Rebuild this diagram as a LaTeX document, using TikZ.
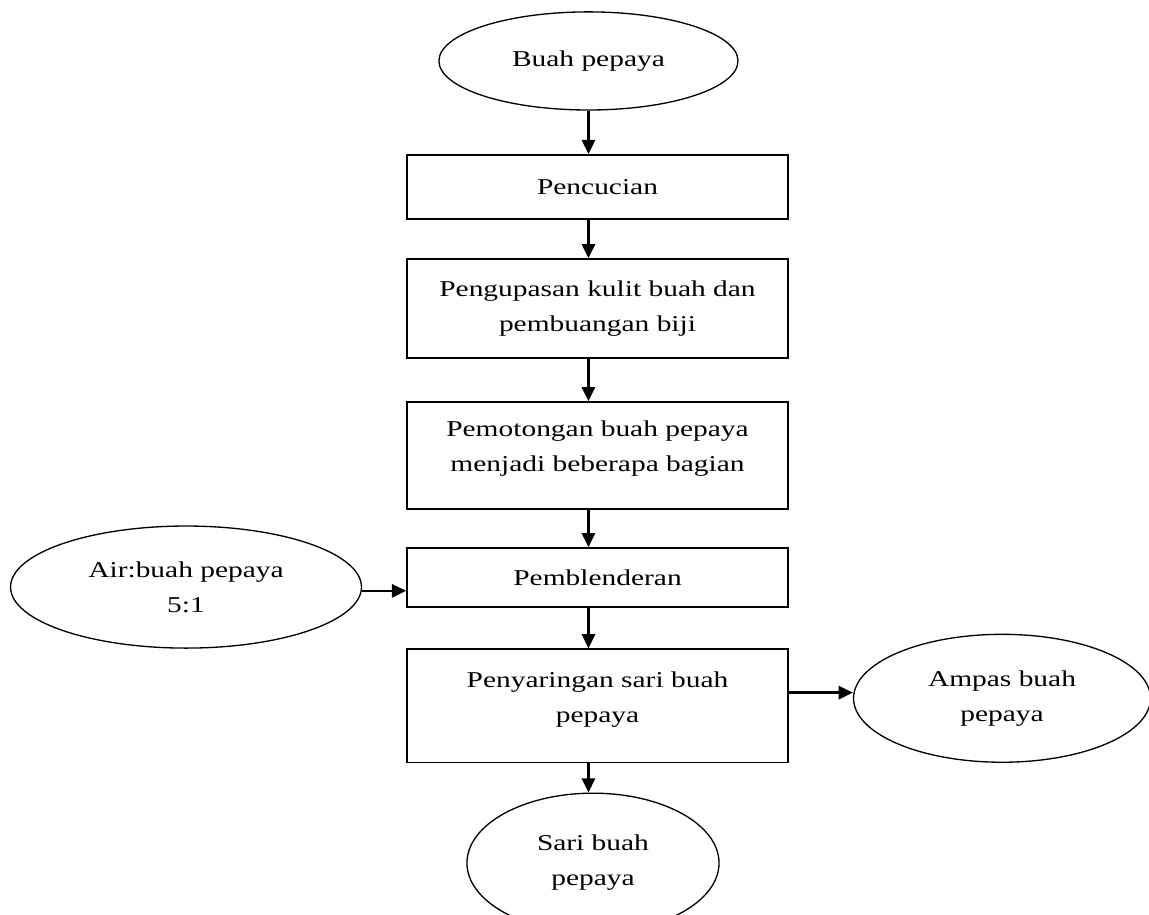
\documentclass[tikz,border=0pt]{standalone}
\usepackage{fontspec}
\setmainfont{Liberation Serif}[FakeStretch=1.3]
\usepackage{tikz}
\usetikzlibrary{shapes.geometric, arrows.meta, positioning, calc}

\begin{document}
\begin{tikzpicture}[
    every node/.style={font=\fontsize{12}{18.5}\selectfont, align=center},
    proses/.style={rectangle, draw=black, line width=0.9pt, minimum width=202pt, inner sep=2pt},
    bahan/.style={ellipse, draw=black, line width=0.7pt, inner sep=0pt},
    arrow/.style={-{Triangle[length=7.5pt, width=7pt]}, line width=1.2pt, draw=black}
]

\useasboundingbox (-311.9pt,32.3pt) rectangle (297.1pt,-452.6pt);

% Main Flow
\node (buah) [bahan, minimum width=158.5pt, minimum height=52pt] at (0,0) {Buah pepaya};
\node (cuci) [proses, minimum height=34pt, below=23pt of buah, xshift=4.8pt] {Pencucian};
\node (kupas) [proses, minimum height=52.5pt, below=20.3pt of cuci] {Pengupasan kulit buah dan\\ pembuangan biji};
\node (potong) [proses, minimum height=56.7pt, below=22.4pt of kupas] {Pemotongan buah pepaya\\ menjadi beberapa bagian\\[-9pt]\mbox{}};
\node (blender) [proses, minimum height=31.3pt, below=19.8pt of potong] {Pemblenderan};
\node (saring) [proses, minimum height=60pt, below=21.4pt of blender] {Penyaringan sari buah\\ pepaya\\[-9pt]\mbox{}};
\node (sari) [bahan, minimum width=133.6pt, minimum height=74pt, below=15.5pt of saring, xshift=-2.4pt] {Sari buah\\ pepaya};

% Side Inputs and Outputs
\node (air) [bahan, minimum width=186pt, minimum height=64.7pt, left=23.3pt of blender, yshift=-5pt] {Air:buah pepaya\\ 5:1};
\node (ampas) [bahan, minimum width=157.4pt, minimum height=67.8pt, right=33.9pt of saring, yshift=4pt] {Ampas buah\\ pepaya};

% Connections
\draw [arrow] (buah.south) -- (cuci.north -| buah.south);
\draw [arrow] (cuci.south -| buah.south) -- (kupas.north -| buah.south);
\draw [arrow] (kupas.south -| buah.south) -- (potong.north -| buah.south);
\draw [arrow] (potong.south -| buah.south) -- (blender.north -| buah.south);
\draw [arrow] (blender.south -| buah.south) -- (saring.north -| buah.south);
\draw [arrow] (saring.south -| buah.south) -- (sari.north -| buah.south);
\draw [arrow] ([yshift=-2pt]air.east) -- ([yshift=-2pt]air.east -| blender.west);
\draw [arrow] ([yshift=3pt]saring.east |- ampas.west) -- ([yshift=3pt]ampas.west);

\end{tikzpicture}
\end{document}
